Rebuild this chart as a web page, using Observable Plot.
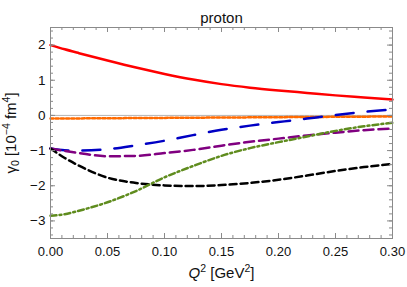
<!DOCTYPE html>
<html>
<head>
<meta charset="utf-8">
<script src="https://cdn.jsdelivr.net/npm/d3@7"></script>
<script src="https://cdn.jsdelivr.net/npm/@observablehq/plot@0.6"></script>
<style>
  html, body { margin: 0; padding: 0; background: #fff; }
  svg { font-family: "Liberation Sans", Arial, sans-serif; }
</style>
</head>
<body>
<div id="chart"></div>
<script>
// Q^2 grid (GeV^2)
const q = [0, 0.0125, 0.025, 0.05, 0.075, 0.1, 0.125, 0.15, 0.175, 0.2, 0.225, 0.25, 0.275, 0.3];
// gamma_0 values (10^-4 fm^4)
const red    = [2.00, 1.88, 1.77, 1.56, 1.36, 1.18, 1.02, 0.89, 0.79, 0.71, 0.64, 0.57, 0.51, 0.45];
const orange = [-0.09, -0.088, -0.085, -0.08, -0.075, -0.07, -0.065, -0.06, -0.055, -0.05, -0.045, -0.04, -0.035, -0.03];
const blue   = [-0.94, -0.99, -1.00, -0.96, -0.85, -0.72, -0.56, -0.41, -0.29, -0.19, -0.09, 0.01, 0.10, 0.17];
const purple = [-0.94, -1.01, -1.07, -1.16, -1.15, -1.07, -0.98, -0.86, -0.75, -0.66, -0.57, -0.49, -0.42, -0.37];
const black  = [-0.94, -1.21, -1.43, -1.77, -1.92, -1.99, -2.01, -1.98, -1.92, -1.83, -1.71, -1.58, -1.47, -1.38];
const green  = [-2.85, -2.81, -2.71, -2.47, -2.15, -1.76, -1.44, -1.15, -0.93, -0.76, -0.60, -0.44, -0.31, -0.21];

const xTicks = [0, 0.05, 0.10, 0.15, 0.20, 0.25, 0.30];
const yTicks = [-3, -2, -1, 0, 1, 2];
const xMinor = d3.range(0, 31).map(i => i / 100);
const yMinor = d3.range(-17, 13).map(i => i / 5);

const series = [
  {name: "red",    values: red,    stroke: "#ff0000", dash: null},
  {name: "orange", values: orange, stroke: "#ff6a00", dash: "3,2.2"},
  {name: "blue",   values: blue,   stroke: "#0000c4", dash: "18,14"},
  {name: "purple", values: purple, stroke: "#800080", dash: "10,5"},
  {name: "black",  values: black,  stroke: "#000000", dash: "7,4"},
  {name: "green",  values: green,  stroke: "#5f8c1e", dash: "6,3,2,3"}
];

const W = 407, H = 287, mT = 27, mB = 49, mL = 50, mR = 15;
const fh = H - mT - mB, fw = W - mL - mR;
const major = 5, minor = 3;
const frameColor = "#8a8a8a";

const lineMarks = series.map(s =>
  Plot.line(q.map((x, i) => ({x, y: s.values[i]})), {
    x: "x", y: "y", stroke: s.stroke, strokeWidth: 2.5,
    strokeDasharray: s.dash, curve: "monotone-x"
  })
);

const fmtY = d => d < 0 ? "\u2212" + (-d) : String(d);

const chart = Plot.plot({
  width: W, height: H,
  marginTop: mT, marginBottom: mB, marginLeft: mL, marginRight: mR,
  style: {fontFamily: "Liberation Sans, Arial, sans-serif", fontSize: "13px", color: "#111"},
  x: {domain: [0, 0.30]},
  y: {domain: [-3.5, 2.5]},
  marks: [
    Plot.ruleY([0], {stroke: "#b4b4b4", strokeWidth: 1}),
    ...lineMarks,
    // ticks (inside, on all four sides)
    Plot.ruleX(xMinor, {stroke: frameColor, insetTop: fh - minor}),
    Plot.ruleX(xMinor, {stroke: frameColor, insetBottom: fh - minor}),
    Plot.ruleX(xTicks, {stroke: frameColor, insetTop: fh - major}),
    Plot.ruleX(xTicks, {stroke: frameColor, insetBottom: fh - major}),
    Plot.ruleY(yMinor, {stroke: frameColor, insetRight: fw - minor}),
    Plot.ruleY(yMinor, {stroke: frameColor, insetLeft: fw - minor}),
    Plot.ruleY(yTicks, {stroke: frameColor, insetRight: fw - major}),
    Plot.ruleY(yTicks, {stroke: frameColor, insetLeft: fw - major}),
    Plot.frame({stroke: frameColor, strokeWidth: 1}),
    Plot.axisX({anchor: "bottom", ticks: xTicks, tickSize: 0, tickPadding: 8,
      tickFormat: d3.format(".2f"), fontSize: 13,
      label: "Q2 [GeV2]", labelAnchor: "center", labelArrow: "none", labelOffset: 39}),
    Plot.axisY({anchor: "left", ticks: yTicks, tickSize: 0, tickPadding: 5,
      tickFormat: fmtY, fontSize: 13.5,
      label: "γ0 [10-4 fm4]", labelAnchor: "center", labelArrow: "none", labelOffset: 45}),
    Plot.text(["proton"], {frameAnchor: "top", dy: -15, fontSize: 15, fill: "#111"})
  ]
});

document.getElementById("chart").appendChild(chart);

const xl = chart.querySelector('g[aria-label="x-axis label"] text');
if (xl) {
  xl.setAttribute("font-size", "15");
  xl.innerHTML = '<tspan font-style="italic">Q</tspan><tspan dy="-6" font-size="10.5">2</tspan>' +
    '<tspan dy="6"> [GeV</tspan><tspan dy="-6" font-size="10.5">2</tspan><tspan dy="6">]</tspan>';
}
const yl = chart.querySelector('g[aria-label="y-axis label"] text');
if (yl) {
  yl.setAttribute("font-size", "15");
  yl.innerHTML = 'γ<tspan dy="3" font-size="10.5">0</tspan><tspan dy="-3"> [10</tspan>' +
    '<tspan dy="-6" font-size="10.5">\u22124</tspan><tspan dy="6"> fm</tspan>' +
    '<tspan dy="-6" font-size="10.5">4</tspan><tspan dy="6">]</tspan>';
}
</script>
</body>
</html>
